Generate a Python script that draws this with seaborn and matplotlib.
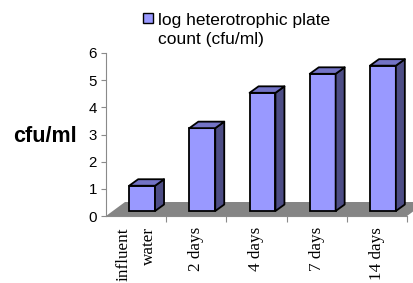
import matplotlib
matplotlib.use("Agg")
import matplotlib.pyplot as plt
import matplotlib.transforms as mtrans
from matplotlib.patches import Polygon, Rectangle
import seaborn as sns

categories = ["influent\nwater", "2 days", "4 days", "7 days", "14 days"]
values = [0.93, 3.05, 4.35, 5.05, 5.35]
y_ticks = [0, 1, 2, 3, 4, 5, 6]
legend_label = ["log heterotrophic plate", "count (cfu/ml)"]
y_label = "cfu/ml"

FRONT = "#9999FF"
TOP = "#7373C6"
SIDE = "#4D4D85"
FLOOR = "#858585"
AXC = "#8a8a8a"

W, H, DPI = 414, 283, 100
fig = plt.figure(figsize=(W / DPI, H / DPI), dpi=DPI)
ax = fig.add_axes([106 / W, 67 / H, 301 / W, 163 / H])

ax.set_xlim(-0.5, 4.5)
ax.set_ylim(0, 6)

# floor
dfx, dfy = 19 / 301, 14 / 163
floor = Polygon([(0, 0), (1, 0), (1 + dfx, dfy), (dfx, dfy)], closed=True,
                transform=ax.transAxes, facecolor=FLOOR, edgecolor="none",
                clip_on=False, zorder=1)
ax.add_patch(floor)

sns.barplot(x=categories, y=values, color=FRONT, saturation=1, width=0.43,
            edgecolor="black", linewidth=1.3, ax=ax, zorder=3)
ax.set_xlim(-0.5, 4.5)
ax.set_ylim(0, 6)

offset = mtrans.ScaledTranslation(6 / DPI, 5 / DPI, fig.dpi_scale_trans)
tr = ax.transData + offset
ddx = 9 / 60.2
ddy = 6.5 / 27.2
for p in list(ax.patches):
    if p is floor:
        continue
    p.set_transform(tr)
    p.set_clip_on(False)
    x0 = p.get_x()
    w = p.get_width()
    h = p.get_height()
    side = Polygon([(x0 + w, 0), (x0 + w + ddx, ddy), (x0 + w + ddx, h + ddy), (x0 + w, h)],
                   closed=True, facecolor=SIDE, edgecolor="black", linewidth=1.3,
                   transform=tr, clip_on=False, zorder=3, joinstyle="round")
    top = Polygon([(x0, h), (x0 + w, h), (x0 + w + ddx, h + ddy), (x0 + ddx, h + ddy)],
                  closed=True, facecolor=TOP, edgecolor="black", linewidth=1.3,
                  transform=tr, clip_on=False, zorder=3, joinstyle="round")
    ax.add_patch(side)
    ax.add_patch(top)

# spines
for s in ["top", "right"]:
    ax.spines[s].set_visible(False)
for s in ["left", "bottom"]:
    ax.spines[s].set_color(AXC)
    ax.spines[s].set_linewidth(0.8)

ax.set_yticks(y_ticks)
ax.set_yticklabels([str(t) for t in y_ticks], fontsize=10.8,
                   family=["Liberation Sans", "DejaVu Sans"])
ax.tick_params(axis="y", direction="out", length=3.6, width=0.8, color=AXC, pad=3)

ax.set_xticks([0.5, 1.5, 2.5, 3.5, 4.5])
ax.set_xticklabels([])
ax.tick_params(axis="x", which="major", direction="out", length=4, width=0.8, color=AXC)
ax.set_xticks(range(len(categories)), minor=True)
ax.set_xticklabels(categories, minor=True, rotation=90, fontsize=12.3,
                   family=["Liberation Serif", "DejaVu Serif"], va="top",
                   ha="center", linespacing=1.8, multialignment="right")
ax.tick_params(axis="x", which="minor", length=0, pad=8)

ax.set_xlabel("")
ax.set_ylabel(y_label, rotation=0, fontsize=15.5, fontweight="bold",
              family=["Liberation Sans", "DejaVu Sans"], ha="center", va="center")
ax.yaxis.set_label_coords((44.5 - 106) / 301, (216 - 136) / 163)

# legend
fig.patches.append(Rectangle((143 / W, 1 - 23 / H), 10 / W, 10 / H, transform=fig.transFigure,
                             facecolor=FRONT, edgecolor="black", linewidth=1.0))
fig.text(158 / W, 1 - 25 / H, legend_label[0], fontsize=12.5,
         family=["Liberation Sans", "DejaVu Sans"], va="baseline", ha="left")
fig.text(158 / W, 1 - 44 / H, legend_label[1], fontsize=12.5,
         family=["Liberation Sans", "DejaVu Sans"], va="baseline", ha="left")

fig.savefig("out.png", dpi=DPI)
